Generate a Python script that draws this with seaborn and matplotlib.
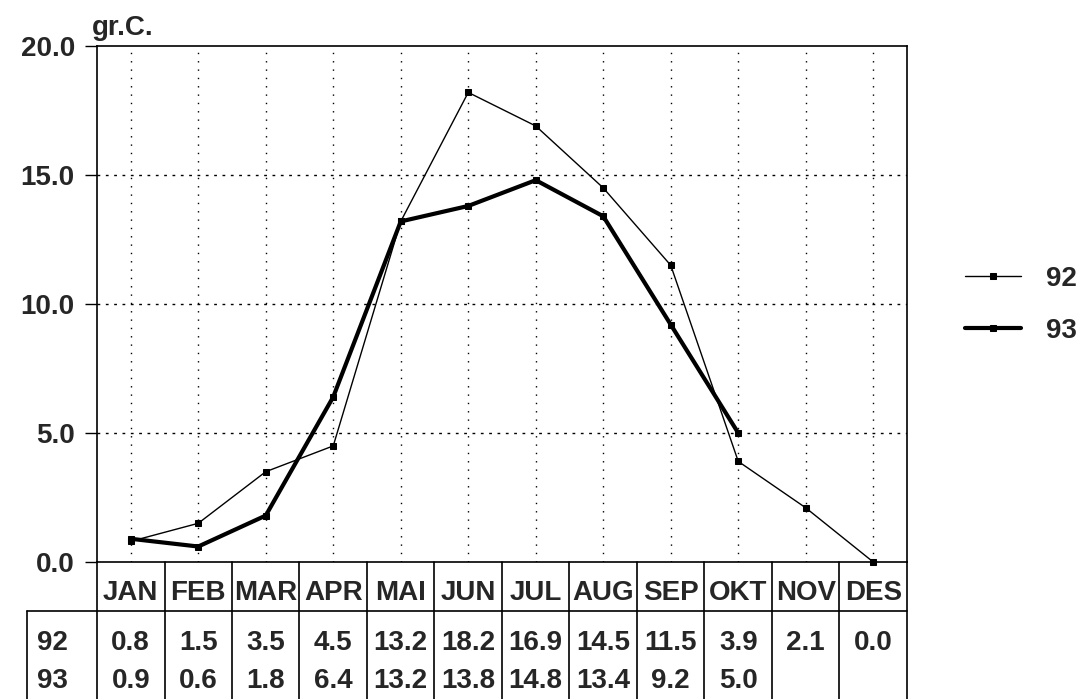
import matplotlib
matplotlib.use("Agg")
import matplotlib.pyplot as plt
import matplotlib.transforms as mtransforms
import numpy as np
import pandas as pd
import seaborn as sns

# data
months = ['JAN', 'FEB', 'MAR', 'APR', 'MAI', 'JUN', 'JUL', 'AUG', 'SEP', 'OKT', 'NOV', 'DES']
temp_92 = [0.8, 1.5, 3.5, 4.5, 13.2, 18.2, 16.9, 14.5, 11.5, 3.9, 2.1, 0.0]
temp_93 = [0.9, 0.6, 1.8, 6.4, 13.2, 13.8, 14.8, 13.4, 9.2, 5.0, None, None]
years = ['92', '93']
y_ticks = [0.0, 5.0, 10.0, 15.0, 20.0]

sns.set_style("white")
plt.rcParams['font.family'] = ['Liberation Sans', 'DejaVu Sans']
plt.rcParams['font.weight'] = 'bold'
FS = 20

# month position = centre of its table cell
pos = np.arange(len(months)) + 0.5
df = pd.DataFrame({
    'pos': np.concatenate([pos, pos]),
    'temp': temp_92 + temp_93,
    'year': ['92'] * 12 + ['93'] * 12,
}).dropna()

fig = plt.figure(figsize=(10.84, 6.99), dpi=100)
ax = fig.add_axes([97 / 1084, 1 - 562 / 699, 810 / 1084, 516 / 699])

styles = {'92': dict(lw=1.0, ms=3.8), '93': dict(lw=3.0, ms=4.2)}
for yr in years:
    sub = df[df['year'] == yr]
    sns.lineplot(data=sub, x='pos', y='temp', ax=ax, color='black',
                 linewidth=styles[yr]['lw'], marker='s', markersize=styles[yr]['ms'],
                 markeredgecolor='black', label=yr, zorder=3, clip_on=False)

ax.set_xlim(0, 12)
ax.set_ylim(0, 20)
ax.set_xlabel('')
ax.set_ylabel('')
ax.set_xticks(pos)
ax.set_xticklabels([])
ax.tick_params(axis='x', direction='in', length=8, width=1, color='black')
ax.set_yticks(y_ticks)
ax.set_yticklabels([f'{v:.1f}' for v in y_ticks], fontsize=FS, fontweight='bold')
ax.tick_params(axis='y', direction='out', length=9, width=1, pad=7, color='black', left=True)

for x in pos:
    ax.axvline(x, color='black', lw=1, ls=(0, (1, 5)), zorder=1)
for y in [5, 10, 15]:
    ax.axhline(y, color='black', lw=1, ls=(0, (2, 4)), zorder=1)
for s in ax.spines.values():
    s.set_color('black')
    s.set_linewidth(1.2)

ax.text(-0.006, 1.021, 'gr.C.', transform=ax.transAxes, ha='left', va='baseline',
        fontsize=FS, fontweight='bold')

# table below the axes: x in data, y in axes fraction
tr = mtransforms.blended_transform_factory(ax.transData, ax.transAxes)
bottom = -0.27
sep = -0.095
lkw = dict(color='black', lw=1.2, transform=tr, clip_on=False)
for i in range(13):
    ax.plot([i, i], [0, bottom], **lkw)
ax.plot([-1.037, 12], [sep, sep], **lkw)
ax.plot([-1.037, -1.037], [sep, bottom], **lkw)

for i, m in enumerate(months):
    ax.text(pos[i], -0.060, m, transform=tr, ha='center', va='center',
            fontsize=FS, fontweight='bold')
rows = {'92': (temp_92, -0.157), '93': (temp_93, -0.231)}
for yr, (vals, yy) in rows.items():
    ax.text(-0.89, yy, yr, transform=tr, ha='left', va='center',
            fontsize=FS, fontweight='bold')
    for i, v in enumerate(vals):
        if v is not None:
            ax.text(pos[i], yy, f'{v:.1f}', transform=tr, ha='center', va='center',
                    fontsize=FS, fontweight='bold')

leg = ax.legend(loc='center left', bbox_to_anchor=(965 / 1084, 1 - 305 / 699),
                bbox_transform=fig.transFigure, frameon=False, fontsize=FS,
                handlelength=2.0, handletextpad=0.9, labelspacing=0.95,
                borderpad=0, borderaxespad=0)
for t in leg.get_texts():
    t.set_fontweight('bold')

fig.savefig('out.png', dpi=100)
